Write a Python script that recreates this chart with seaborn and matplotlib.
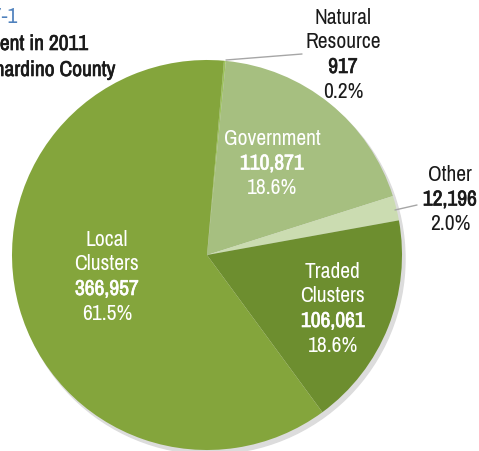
import matplotlib
matplotlib.use("Agg")
import matplotlib.pyplot as plt
import matplotlib.patheffects as pe
from matplotlib import font_manager as fm
import seaborn as sns

# data (clockwise from the top)
categories = ["Natural\nResource", "Government", "Other", "Traded\nClusters", "Local\nClusters"]
employment = [917, 110871, 12196, 106061, 366957]
pct_labels = ["0.2%", "18.6%", "2.0%", "18.6%", "61.5%"]
colors = ["#9dc35c", "#a6bf80", "#cbdcb1", "#6d8e2f", "#84a53c"]

W, H = 479, 451


def py(y):
    # pixel row (from top) -> data y (from bottom)
    return H - y


def main():
    sns.set_theme(style="white")
    # look for a narrow sans face, the source uses Arial Narrow
    faces = fm.fontManager.ttflist
    narrow = sorted({f.name for f in faces
                     if "Narrow" in f.name or "Condensed" in f.name
                     or str(f.stretch) in ("condensed", "semi-condensed", "extra-condensed")})
    fam = narrow + ["Roboto", "DejaVu Sans"]
    plt.rcParams["font.family"] = fam
    plt.rcParams["font.stretch"] = "condensed"

    # does the chosen face have a real bold? if not, thicken with a thin stroke
    chosen = fm.findfont(fm.FontProperties(family=fam, stretch="condensed", weight="bold"))
    has_bold = "bold" in chosen.lower()

    def bold_kw(col):
        if has_bold:
            return dict(fontweight="bold")
        return dict(path_effects=[pe.withStroke(linewidth=0.45, foreground=col)])

    fig = plt.figure(figsize=(W / 100, H / 100), dpi=100)
    ax = fig.add_axes([0, 0, 1, 1])

    cx, cy, r = 207, py(255), 195

    # soft shadow under the pie
    shadow = plt.Circle((cx + 3, cy - 4), r, color="#dcdcdc", zorder=0)
    ax.add_patch(shadow)

    ax.pie(employment, colors=colors, startangle=85, counterclock=False,
           center=(cx, cy), radius=r, wedgeprops=dict(linewidth=0),
           frame=True)
    ax.set_xlim(0, W)
    ax.set_ylim(0, H)
    ax.set_aspect("equal")
    ax.axis("off")

    # label blocks: (x, top line y in px, colour)
    spots = [(343, 18, "#1a1a1a"), (272, 139, "white"), (450, 175, "#1a1a1a"),
             (333, 272, "white"), (107, 240, "white")]
    fs = 15.5 if narrow else 12.5
    for (x, y0, col), name, val, pct in zip(spots, categories, employment, pct_labels):
        y = y0
        for line in name.split("\n"):
            ax.text(x, py(y), line, ha="center", va="center", fontsize=fs, color=col)
            y += 24.5
        ax.text(x, py(y), f"{val:,}", ha="center", va="center", fontsize=fs,
                color=col, **bold_kw(col))
        y += 24.5
        ax.text(x, py(y), pct, ha="center", va="center", fontsize=fs, color=col)

    # leader lines for the small outside slices
    ax.plot([226, 302], [py(60), py(54)], color="#a6a6a6", lw=1)
    ax.plot([395, 417], [py(210), py(205)], color="#a6a6a6", lw=1)

    # title, cut off at the left edge like the source
    ax.text(17, py(17), "Figure 7-1", ha="right", va="center", fontsize=fs,
            color="#4f81bd")
    ax.text(88, py(44), "Employment in 2011", ha="right", va="center",
            fontsize=fs, color="#1a1a1a", **bold_kw("#1a1a1a"))
    ax.text(115, py(70), "San Bernardino County", ha="right", va="center",
            fontsize=fs, color="#1a1a1a", **bold_kw("#1a1a1a"))

    fig.savefig("out.png", dpi=100)


if __name__ == "__main__":
    main()
